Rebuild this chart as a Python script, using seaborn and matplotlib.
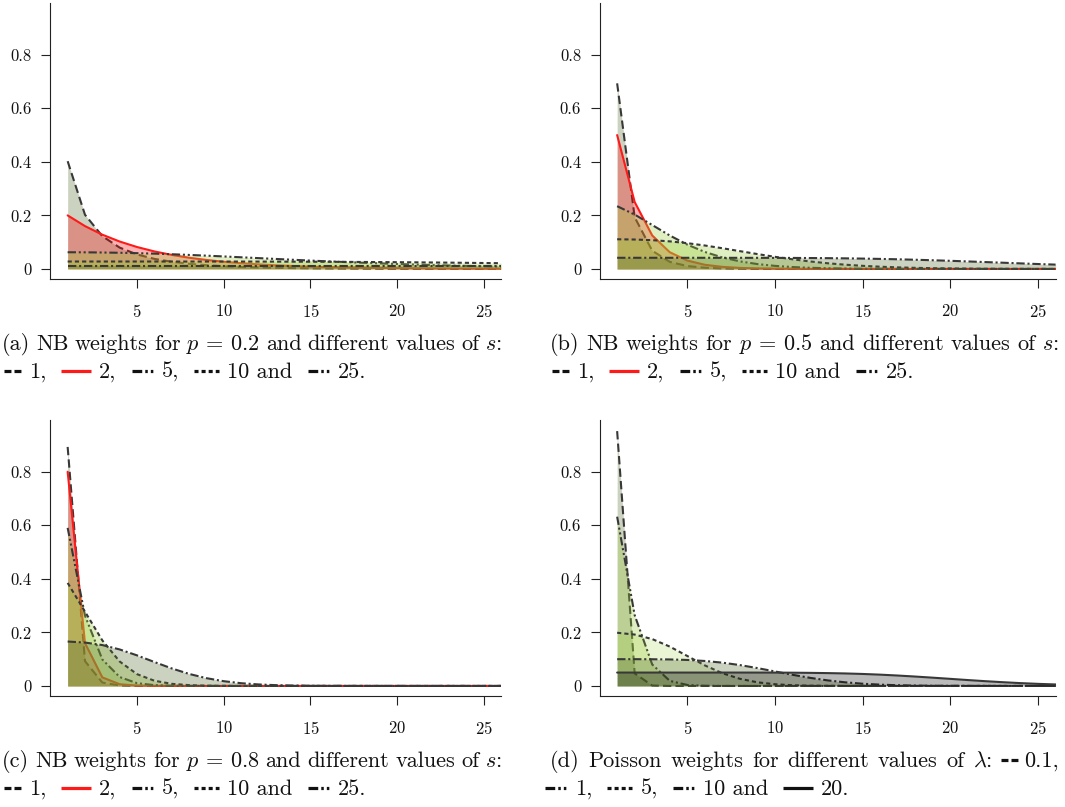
#!/usr/bin/env python3
"""Recreate the four-panel NB / Poisson weight chart with seaborn."""

import matplotlib

matplotlib.use("Agg")
import matplotlib.pyplot as plt
import seaborn as sns
from matplotlib.lines import Line2D

# ---------------------------------------------------------------- data
X = list(range(1, 27))

# (a) NB weights, p = 0.2
A_S1 = [0.4024, 0.2024, 0.1224, 0.0797, 0.0541, 0.0377, 0.0268, 0.0193, 0.0141, 0.0103, 0.0076, 0.0057, 0.0043,
        0.0032, 0.0024, 0.0018, 0.0014, 0.0011, 0.0008, 0.0006, 0.0005, 0.0004, 0.0003, 0.0002, 0.0002, 0.0001]
A_S2 = [0.2000, 0.1600, 0.1280, 0.1024, 0.0819, 0.0655, 0.0524, 0.0419, 0.0336, 0.0268, 0.0215, 0.0172, 0.0137,
        0.0110, 0.0088, 0.0070, 0.0056, 0.0045, 0.0036, 0.0029, 0.0023, 0.0018, 0.0015, 0.0012, 0.0009, 0.0008]
A_S5 = [0.0624, 0.0621, 0.0614, 0.0604, 0.0590, 0.0572, 0.0550, 0.0524, 0.0497, 0.0467, 0.0436, 0.0405, 0.0374,
        0.0343, 0.0313, 0.0284, 0.0257, 0.0231, 0.0208, 0.0185, 0.0165, 0.0146, 0.0129, 0.0114, 0.0100, 0.0088]
A_S10 = [0.0278, 0.0278, 0.0278, 0.0278, 0.0278, 0.0278, 0.0278, 0.0277, 0.0277, 0.0277, 0.0276, 0.0275, 0.0274,
         0.0272, 0.0270, 0.0268, 0.0265, 0.0261, 0.0257, 0.0253, 0.0248, 0.0242, 0.0236, 0.0229, 0.0222, 0.0215]
A_S25 = [0.0104, 0.0104, 0.0104, 0.0104, 0.0104, 0.0104, 0.0104, 0.0104, 0.0104, 0.0104, 0.0104, 0.0104, 0.0104,
         0.0104, 0.0104, 0.0104, 0.0104, 0.0104, 0.0104, 0.0104, 0.0104, 0.0104, 0.0104, 0.0104, 0.0104, 0.0104]

# (b) NB weights, p = 0.5
B_S1 = [0.6931, 0.1931, 0.0681, 0.0265, 0.0108, 0.0046, 0.0020, 0.0009, 0.0004, 0.0002, 0.0001, 0.0001, 0.0,
        0.0, 0.0, 0.0, 0.0, 0.0, 0.0, 0.0, 0.0, 0.0, 0.0, 0.0, 0.0, 0.0]
B_S2 = [0.5000, 0.2500, 0.1250, 0.0625, 0.0313, 0.0156, 0.0078, 0.0039, 0.0020, 0.0010, 0.0005, 0.0002, 0.0001,
        0.0001, 0.0, 0.0, 0.0, 0.0, 0.0, 0.0, 0.0, 0.0, 0.0, 0.0, 0.0, 0.0]
B_S5 = [0.2344, 0.2031, 0.1641, 0.1250, 0.0908, 0.0635, 0.0430, 0.0283, 0.0182, 0.0115, 0.0072, 0.0044, 0.0027,
        0.0016, 0.0009, 0.0006, 0.0003, 0.0002, 0.0001, 0.0001, 0.0, 0.0, 0.0, 0.0, 0.0, 0.0]
B_S10 = [0.1109, 0.1099, 0.1075, 0.1030, 0.0963, 0.0876, 0.0774, 0.0665, 0.0556, 0.0453, 0.0360, 0.0280, 0.0213,
         0.0159, 0.0117, 0.0084, 0.0060, 0.0042, 0.0029, 0.0020, 0.0013, 0.0009, 0.0006, 0.0004, 0.0003, 0.0002]
B_S25 = [0.0417, 0.0417, 0.0417, 0.0417, 0.0417, 0.0417, 0.0416, 0.0416, 0.0415, 0.0414, 0.0412, 0.0408, 0.0403,
         0.0396, 0.0387, 0.0375, 0.0361, 0.0344, 0.0325, 0.0304, 0.0281, 0.0257, 0.0233, 0.0208, 0.0184, 0.0162]

# (c) NB weights, p = 0.8
C_S1 = [0.8926, 0.0926, 0.0126, 0.0019, 0.0003, 0.0001, 0.0, 0.0, 0.0, 0.0, 0.0, 0.0, 0.0,
        0.0, 0.0, 0.0, 0.0, 0.0, 0.0, 0.0, 0.0, 0.0, 0.0, 0.0, 0.0, 0.0]
C_S2 = [0.8000, 0.1600, 0.0320, 0.0064, 0.0013, 0.0003, 0.0001, 0.0, 0.0, 0.0, 0.0, 0.0, 0.0,
        0.0, 0.0, 0.0, 0.0, 0.0, 0.0, 0.0, 0.0, 0.0, 0.0, 0.0, 0.0, 0.0]
C_S5 = [0.5904, 0.2627, 0.0989, 0.0333, 0.0104, 0.0031, 0.0009, 0.0002, 0.0001, 0.0, 0.0, 0.0, 0.0,
        0.0, 0.0, 0.0, 0.0, 0.0, 0.0, 0.0, 0.0, 0.0, 0.0, 0.0, 0.0, 0.0]
C_S10 = [0.3848, 0.2774, 0.1700, 0.0913, 0.0441, 0.0195, 0.0080, 0.0031, 0.0011, 0.0004, 0.0001, 0.0, 0.0,
         0.0, 0.0, 0.0, 0.0, 0.0, 0.0, 0.0, 0.0, 0.0, 0.0, 0.0, 0.0, 0.0]
C_S25 = [0.1659, 0.1621, 0.1527, 0.1363, 0.1142, 0.0894, 0.0655, 0.0450, 0.0291, 0.0178, 0.0103, 0.0057, 0.0030,
         0.0015, 0.0008, 0.0004, 0.0002, 0.0001, 0.0, 0.0, 0.0, 0.0, 0.0, 0.0, 0.0, 0.0]

# (d) Poisson weights
D_L01 = [0.9516, 0.0468, 0.0016, 0.0, 0.0, 0.0, 0.0, 0.0, 0.0, 0.0, 0.0, 0.0, 0.0,
         0.0, 0.0, 0.0, 0.0, 0.0, 0.0, 0.0, 0.0, 0.0, 0.0, 0.0, 0.0, 0.0]
D_L1 = [0.6321, 0.2642, 0.0803, 0.0190, 0.0037, 0.0006, 0.0001, 0.0, 0.0, 0.0, 0.0, 0.0, 0.0,
        0.0, 0.0, 0.0, 0.0, 0.0, 0.0, 0.0, 0.0, 0.0, 0.0, 0.0, 0.0, 0.0]
D_L5 = [0.1987, 0.1919, 0.1751, 0.1470, 0.1119, 0.0768, 0.0476, 0.0267, 0.0136, 0.0064, 0.0027, 0.0011, 0.0004,
        0.0001, 0.0, 0.0, 0.0, 0.0, 0.0, 0.0, 0.0, 0.0, 0.0, 0.0, 0.0, 0.0]
D_L10 = [0.1000, 0.1000, 0.0997, 0.0990, 0.0971, 0.0933, 0.0870, 0.0780, 0.0667, 0.0542, 0.0417, 0.0303, 0.0208,
         0.0136, 0.0083, 0.0049, 0.0027, 0.0014, 0.0007, 0.0003, 0.0002, 0.0001, 0.0, 0.0, 0.0, 0.0]
D_L20 = [0.0500, 0.0500, 0.0500, 0.0500, 0.0500, 0.0500, 0.0500, 0.0500, 0.0499, 0.0498, 0.0495, 0.0489, 0.0480,
         0.0467, 0.0448, 0.0422, 0.0389, 0.0351, 0.0309, 0.0265, 0.0220, 0.0178, 0.0140, 0.0106, 0.0078, 0.0056]

X_TICKS = [5, 10, 15, 20, 25]
Y_TICKS = [0, 0.2, 0.4, 0.6, 0.8]
Y_LABELS = ["0", "0.2", "0.4", "0.6", "0.8"]

# ---------------------------------------------------------------- styles
W, H = 1065, 807
LINE = "#383838"
RED = "#ff1a1a"
CAPTION_SIZE = 16

LONG = (0, (6, 3))
SHORT = (0, (3, 2.2))
DASHDOT = (0, (6, 2, 1.5, 2))
DASHDOTDOT = (0, (6, 2, 1.5, 2, 1.5, 2))

# (line colour, line style, fill colour, fill alpha)
NB_STYLES = [
    (LINE, LONG, "darkolivegreen", 0.3),
    (RED, "-", "red", 0.3),
    (LINE, DASHDOTDOT, "yellowgreen", 0.3),
    (LINE, SHORT, "yellowgreen", 0.3),
    (LINE, DASHDOT, "darkolivegreen", 0.3),
]
POIS_STYLES = [
    (LINE, LONG, "darkolivegreen", 0.3),
    (LINE, DASHDOTDOT, "yellowgreen", 0.3),
    (LINE, SHORT, "yellowgreen", 0.2),
    (LINE, DASHDOT, "darkolivegreen", 0.3),
    (LINE, "-", "black", 0.27),
]

# legend glyphs used in the captions: (width px, colour, dash pattern)
G_LONG = (17, "#111111", (0, (5, 2.2)))
G_RED = (30, RED, "-")
G_DDOT = (22, "#111111", (0, (7, 2.2, 1.8, 2.2, 1.8, 2.2)))
G_SHORT = (25, "#111111", (0, (2.9, 2.2)))
G_SOLID = (30, "#111111", "-")

sns.set_theme(style="ticks")
plt.rcParams["font.family"] = ["cmr10"]
plt.rcParams["mathtext.fontset"] = "cm"
plt.rcParams["axes.formatter.use_mathtext"] = True
plt.rcParams["lines.scale_dashes"] = False


def axes_rect(left, top, right, bottom):
    return [left / W, 1 - bottom / H, (right - left) / W, (bottom - top) / H]


def draw_panel(ax, series, styles):
    for i, (values, (lc, ls, fc, fa)) in enumerate(zip(series, styles)):
        ax.fill_between(X, 0, values, color=fc, alpha=fa, linewidth=0, zorder=2 * i + 1)
        sns.lineplot(x=X, y=values, ax=ax, color=lc, linewidth=1.5, linestyle=ls,
                     errorbar=None, zorder=2 * i + 2)
    ax.set_xlim(0, 26)
    ax.set_ylim(-0.036, 0.992)
    ax.set_xticks(X_TICKS)
    ax.set_yticks(Y_TICKS)
    ax.set_yticklabels(Y_LABELS)
    ax.set_xlabel("")
    ax.set_ylabel("")
    for side in ("top", "right"):
        ax.spines[side].set_visible(False)
    for side in ("left", "bottom"):
        ax.spines[side].set_color("#222222")
        ax.spines[side].set_linewidth(0.8)
    ax.tick_params(direction="out", length=6.8, width=0.8, color="#222222",
                   labelsize=12, labelcolor="#111111")
    ax.tick_params(axis="x", pad=11)
    ax.tick_params(axis="y", pad=6.5)
    ax.grid(False)


def text_width(fig, s):
    t = fig.text(0, 0, s, fontsize=CAPTION_SIZE)
    w = t.get_window_extent(fig.canvas.get_renderer()).width
    t.remove()
    return w


def part_width(fig, part):
    kind, val = part
    if kind == "t":
        return text_width(fig, val)
    if kind == "sp":
        return val
    return val[0]


def caption(fig, x0, baseline, parts):
    """Lay out text pieces and legend glyphs in one line, left to right (pixel coords)."""
    x = x0
    for kind, val in parts:
        if kind == "t":
            fig.text(x / W, 1 - baseline / H, val, fontsize=CAPTION_SIZE, color="#111111",
                     ha="left", va="baseline")
            x += text_width(fig, val)
        elif kind == "sp":
            x += val
        else:
            width, color, ls = val
            yc = 1 - (baseline - 7) / H
            fig.add_artist(Line2D([x / W, (x + width) / W], [yc, yc], transform=fig.transFigure,
                                  color=color, linewidth=2.3, linestyle=ls,
                                  solid_capstyle="butt", dash_capstyle="butt"))
            x += width


def justified(fig, x0, x1, baseline, units):
    """Spread word units so the line runs from x0 to x1, as a justified LaTeX caption line."""
    widths = [sum(part_width(fig, p) for p in unit) for unit in units]
    gap = (x1 - x0 - sum(widths)) / (len(units) - 1)
    parts = []
    for i, unit in enumerate(units):
        parts.extend(unit)
        if i < len(units) - 1:
            parts.append(("sp", gap))
    caption(fig, x0, baseline, parts)


def words(line):
    return [[("t", w)] for w in line]


def nb_legend_line():
    return [("g", G_LONG), ("sp", 8), ("t", "1,"), ("sp", 15), ("g", G_RED), ("sp", 8), ("t", "2,"),
            ("sp", 15), ("g", G_DDOT), ("sp", 8), ("t", "5,"), ("sp", 15), ("g", G_SHORT), ("sp", 8),
            ("t", "10 and"), ("sp", 15), ("g", G_DDOT), ("sp", 8), ("t", "25.")]


fig = plt.figure(figsize=(W / 100, H / 100), dpi=100)
fig.patch.set_facecolor("white")

ax_a = fig.add_axes(axes_rect(50.3, 3.3, 501.3, 278.6))
ax_b = fig.add_axes(axes_rect(599.6, 3.3, 1055.6, 278.6))
ax_c = fig.add_axes(axes_rect(50.3, 420.3, 501.3, 695.6))
ax_d = fig.add_axes(axes_rect(599.6, 420.3, 1055.6, 695.6))

draw_panel(ax_a, [A_S1, A_S2, A_S5, A_S10, A_S25], NB_STYLES)
draw_panel(ax_b, [B_S1, B_S2, B_S5, B_S10, B_S25], NB_STYLES)
draw_panel(ax_c, [C_S1, C_S2, C_S5, C_S10, C_S25], NB_STYLES)
draw_panel(ax_d, [D_L01, D_L1, D_L5, D_L10, D_L20], POIS_STYLES)

for label, p, x0, x1, base in [("(a)", "0.2", 2, 502, 350), ("(b)", "0.5", 550, 1059, 350),
                               ("(c)", "0.8", 2, 502, 767)]:
    justified(fig, x0, x1, base, words([label, "NB", "weights", "for", rf"$p$ = {p}", "and",
                                        "different", "values", "of", r"$s$:"]))
    caption(fig, x0 + 2, base + 28, nb_legend_line())

justified(fig, 550, 1059, 767,
          words(["(d)", "Poisson", "weights", "for", "different", "values", "of", r"$\lambda$:"])
          + [[("g", G_LONG), ("sp", 6), ("t", "0.1,")]])
caption(fig, 545, 795, [("g", G_DDOT), ("sp", 8), ("t", "1,"), ("sp", 15), ("g", G_SHORT), ("sp", 8),
                        ("t", "5,"), ("sp", 15), ("g", G_DDOT), ("sp", 8), ("t", "10 and"), ("sp", 15),
                        ("g", G_SOLID), ("sp", 8), ("t", "20.")])

fig.savefig("out.png", dpi=100)
plt.close(fig)
